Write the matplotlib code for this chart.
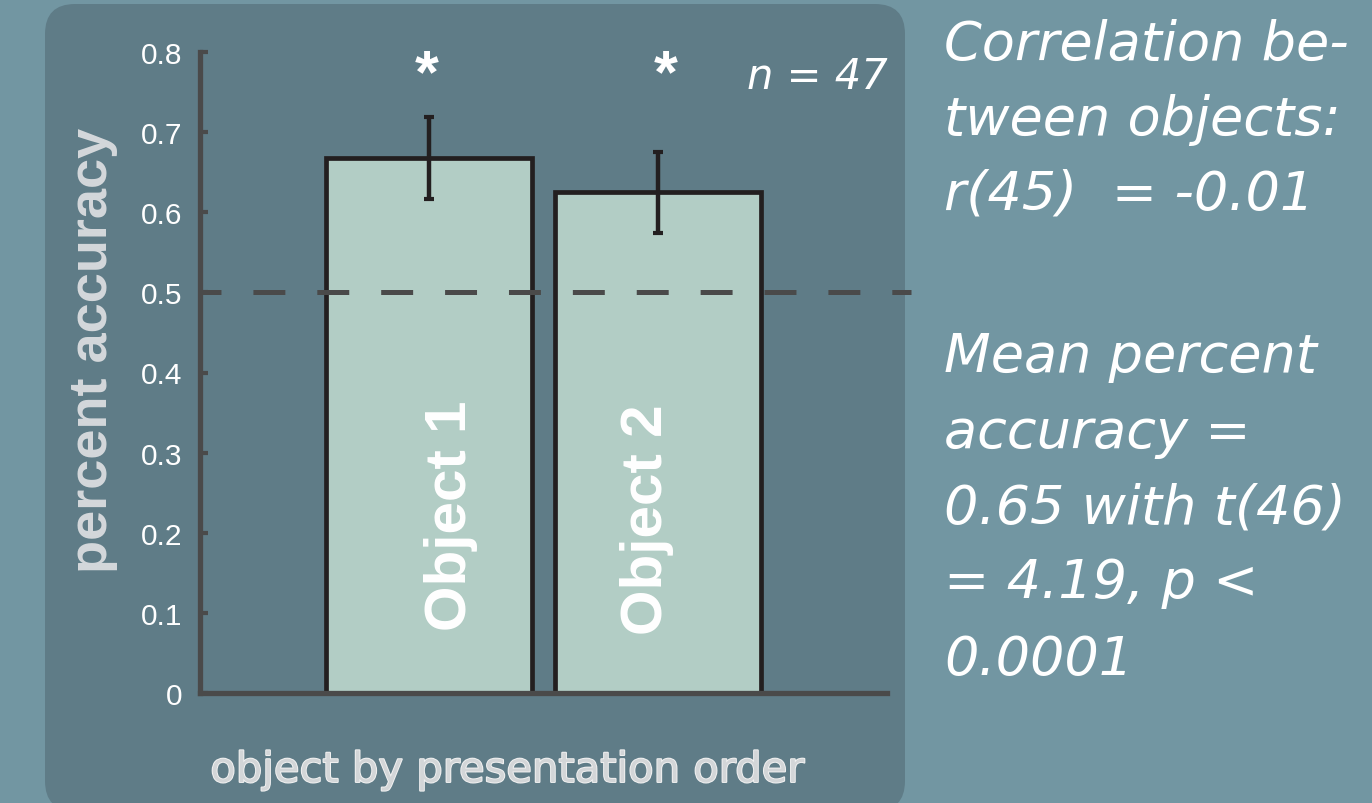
import matplotlib
matplotlib.use("Agg")
import matplotlib.pyplot as plt
import matplotlib.patheffects as pe
from matplotlib.patches import FancyBboxPatch
from matplotlib.transforms import IdentityTransform
from matplotlib import font_manager

plt.rcParams['lines.scale_dashes'] = False

# ---- data ----
objects = ["Object 1", "Object 2"]
positions = [1, 2]
mean_accuracy = [0.668, 0.625]
sem_accuracy = [0.051, 0.0505]
significance = ["*", "*"]
chance_level = 0.5
yticks = [0, 0.1, 0.2, 0.3, 0.4, 0.5, 0.6, 0.7, 0.8]
ytick_labels = ["0", "0.1", "0.2", "0.3", "0.4", "0.5", "0.6", "0.7", "0.8"]
sample_label = "n = 47"
stats_lines = [
    "Correlation be-",
    "tween objects:",
    "r(45)  = -0.01",
    "Mean percent",
    "accuracy =",
    "0.65 with t(46)",
    "= 4.19, p <",
    "0.0001",
]

# ---- styling ----
W, H = 1372, 804
OUTER_BG = "#7296a2"
PANEL_BG = "#5f7c87"
BAR_FILL = "#b2cdc5"
EDGE = "#231f20"
AXIS_GREY = "#4a4a4a"

installed = {f.name for f in font_manager.fontManager.ttflist}
if "Liberation Sans Narrow" in installed:
    bold_family, obj_size, ylab_size = "Liberation Sans Narrow", 47, 46
else:
    bold_family, obj_size, ylab_size = "Liberation Sans", 42, 39

fig = plt.figure(figsize=(W / 100, H / 100), dpi=100)
fig.patch.set_facecolor(OUTER_BG)

# rounded background panel behind the chart (pixel coordinates)
panel = FancyBboxPatch((45, -8), 860, 807,
                       boxstyle="round,pad=0,rounding_size=30",
                       transform=IdentityTransform(),
                       facecolor=PANEL_BG, edgecolor="none", zorder=-5)
fig.add_artist(panel)

ax = fig.add_axes([200 / W, 1 - 694 / H, 687 / W, 641 / H])
ax.set_facecolor("none")
ax.set_xlim(0, 3)
ax.set_ylim(0, 0.8)

ax.bar(positions, mean_accuracy, width=0.9, color=BAR_FILL,
       edgecolor=EDGE, linewidth=3.4, zorder=2)
ax.plot([0, 3.105], [chance_level, chance_level], color=AXIS_GREY, lw=3.6,
        linestyle=(7.9, (23, 23)), clip_on=False, zorder=3)
ax.errorbar(positions, mean_accuracy, yerr=sem_accuracy, fmt="none",
            ecolor=EDGE, elinewidth=3.2, capsize=3.6, capthick=3, zorder=4)

# significance stars above the bars
star_shift = [-0.01, 0.035]
for p, s, dx in zip(positions, significance, star_shift):
    ax.text(p + dx, 0.751, s, ha="center", va="baseline", fontsize=44,
            fontweight="bold", color="white", family="Liberation Sans",
            zorder=5)

# condition names written vertically inside the bars
name_shift = [0.16, 0.017]
name_y = [0.222, 0.2175]
for p, name, dx, yy in zip(positions, objects, name_shift, name_y):
    ax.text(p + dx, yy, name, rotation=90, rotation_mode="anchor",
            ha="center", va="baseline", fontsize=obj_size,
            fontweight="bold", color="white", family=bold_family, zorder=5)

ax.text(3.004, 0.755, sample_label, ha="right", va="baseline", fontsize=30,
        style="italic", color="white", family="DejaVu Sans")

# axes styling
for side in ("top", "right"):
    ax.spines[side].set_visible(False)
for side in ("left", "bottom"):
    ax.spines[side].set_color(AXIS_GREY)
    ax.spines[side].set_linewidth(3.8)
ax.set_xticks([])
ax.set_yticks(yticks)
ax.set_yticklabels(ytick_labels, family="Liberation Sans")
ax.tick_params(axis="y", direction="in", length=6, width=3, color=AXIS_GREY,
               labelsize=21.5, labelcolor="white", pad=13)

ax.set_ylabel("percent accuracy", fontsize=ylab_size, fontweight="bold",
              color="#d4d8db", family=bold_family, va="baseline")
ax.yaxis.set_label_coords(-0.1354, 0.5367)

xl = ax.set_xlabel("object by presentation order", fontsize=30,
                   color="#d3d6d8", family="DejaVu Sans", va="baseline")
xl.set_path_effects([pe.Stroke(linewidth=1.4, foreground="#f2f2f2"),
                     pe.Normal()])
ax.xaxis.set_label_coords(0.4469, -0.1388)

# summary statistics to the right of the chart
baselines = [60, 135, 210, 372, 448, 523, 598, 675]
for line, b in zip(stats_lines, baselines):
    fig.text(944 / W, 1 - b / H, line, ha="left", va="baseline", fontsize=39,
             style="italic", color="white", family="DejaVu Sans")

fig.savefig("out.png", dpi=100, facecolor=OUTER_BG)
